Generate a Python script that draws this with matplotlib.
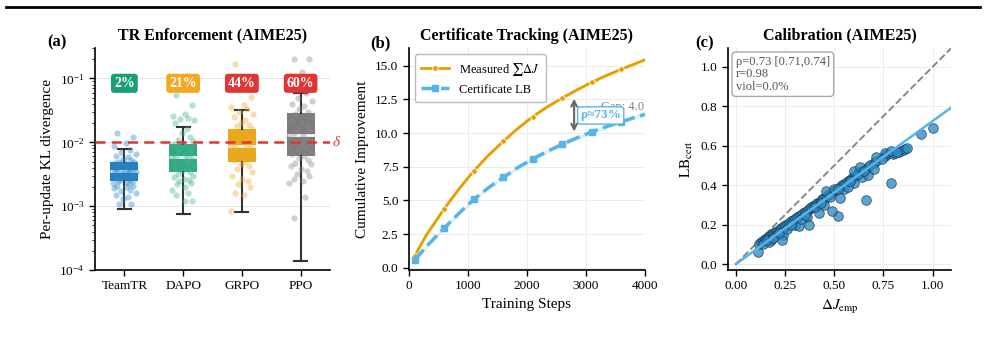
import numpy as np
import matplotlib
matplotlib.use("Agg")
import matplotlib.pyplot as plt
from matplotlib.lines import Line2D

plt.rcParams['font.family'] = ['Liberation Serif', 'DejaVu Serif']
plt.rcParams['mathtext.fontset'] = 'stix'

# ---------------- data: panel (a) ----------------
methods = ["TeamTR", "DAPO", "GRPO", "PPO"]
box_q1 = [0.00248, 0.00344, 0.00483, 0.0060]
box_med = [0.00352, 0.00586, 0.00886, 0.0132]
box_q3 = [0.00483, 0.0093, 0.0162, 0.029]
whisk_lo = [0.00091, 0.00075, 0.00082, 0.000139]
whisk_hi = [0.00776, 0.0171, 0.032, 0.060]
viol_labels = ["2%", "21%", "44%", "60%"]
delta = 0.01

pts_teamtr = [0.0140, 0.0120, 0.0098, 0.0088, 0.0075, 0.0070, 0.0066, 0.0062, 0.0058, 0.0055,
              0.0052, 0.0050, 0.0049, 0.0048, 0.0047, 0.0046, 0.0045, 0.0044, 0.0043, 0.0042,
              0.0041, 0.0040, 0.0039, 0.0038, 0.0037, 0.0036, 0.0036, 0.0035, 0.0034, 0.0034,
              0.0033, 0.0032, 0.0031, 0.0030, 0.0030, 0.0029, 0.0028, 0.0027, 0.0026, 0.0025,
              0.0025, 0.0024, 0.0023, 0.0022, 0.0021, 0.0021, 0.0020, 0.0019, 0.0018, 0.0017,
              0.0016, 0.0015, 0.0014, 0.0013, 0.0011, 0.0011]
pts_dapo = [0.055, 0.038, 0.028, 0.026, 0.024, 0.023, 0.022, 0.020, 0.016, 0.014, 0.012, 0.011,
            0.0105, 0.0095, 0.0090, 0.0085, 0.0080, 0.0075, 0.0070, 0.0066, 0.0062, 0.0060,
            0.0058, 0.0055, 0.0052, 0.0050, 0.0048, 0.0045, 0.0043, 0.0040, 0.0038, 0.0036,
            0.0034, 0.0032, 0.0030, 0.0029, 0.0027, 0.0026, 0.0025, 0.0023, 0.0022, 0.0020,
            0.0018, 0.0016, 0.0015, 0.0012, 0.0012]
pts_grpo = [0.17, 0.052, 0.038, 0.036, 0.033, 0.030, 0.028, 0.025, 0.022, 0.020, 0.019, 0.018,
            0.016, 0.015, 0.014, 0.013, 0.012, 0.011, 0.0105, 0.010, 0.0095, 0.0090, 0.0085,
            0.0080, 0.0075, 0.0070, 0.0065, 0.0060, 0.0056, 0.0052, 0.0050, 0.0046, 0.0042,
            0.0038, 0.0034, 0.0030, 0.0027, 0.0025, 0.0022, 0.0020, 0.0016, 0.0015, 0.00085]
pts_ppo = [0.20, 0.20, 0.125, 0.11, 0.060, 0.050, 0.045, 0.040, 0.037, 0.033, 0.030, 0.028,
           0.025, 0.022, 0.020, 0.018, 0.016, 0.015, 0.014, 0.013, 0.012, 0.011, 0.010, 0.0095,
           0.0090, 0.0085, 0.0080, 0.0075, 0.0070, 0.0065, 0.0060, 0.0056, 0.0052, 0.0048,
           0.0045, 0.0042, 0.0038, 0.0035, 0.0032, 0.0030, 0.0027, 0.0025, 0.0023, 0.0014, 0.00065]
jitter_pattern = [-0.12, 0.15, 0.03, -0.18, 0.09, -0.05, 0.19, -0.14, 0.06, -0.02,
                  0.12, -0.09, 0.17, -0.16, 0.01, 0.10, -0.07, 0.14, -0.11, 0.04, -0.19, 0.08]

# ---------------- data: panel (b) ----------------
steps = [100, 300, 600, 850, 1100, 1350, 1600, 1850, 2100, 2350, 2600, 2850, 3100, 3350, 3600, 3800, 4000]
measured = [0.88, 2.45, 4.38, 5.85, 7.19, 8.35, 9.39, 10.35, 11.22, 11.95, 12.60, 13.20, 13.77, 14.27, 14.73, 15.08, 15.43]
cert_lb = [0.58, 1.60, 2.95, 4.05, 5.08, 5.95, 6.71, 7.45, 8.09, 8.65, 9.17, 9.65, 10.09, 10.48, 10.84, 11.12, 11.39]
marker_idx = [0, 2, 4, 6, 8, 10, 12, 14]
arrow_step = 2800
arrow_top = 12.75
arrow_bot = 9.9

# ---------------- data: panel (c) ----------------
dj_emp = [0.12, 0.13, 0.14, 0.15, 0.15, 0.16, 0.17, 0.17, 0.18, 0.19, 0.19, 0.20, 0.21, 0.21,
          0.22, 0.23, 0.23, 0.24, 0.25, 0.25, 0.26, 0.27, 0.28, 0.29, 0.30, 0.31, 0.32, 0.33,
          0.34, 0.35, 0.36, 0.37, 0.38, 0.38, 0.39, 0.40, 0.41, 0.42, 0.43, 0.44, 0.45, 0.46,
          0.47, 0.48, 0.50, 0.51, 0.53, 0.54, 0.55, 0.56, 0.57, 0.58, 0.59, 0.60, 0.61, 0.62,
          0.63, 0.64, 0.66, 0.67, 0.68, 0.70, 0.71, 0.76, 0.77, 0.80, 0.81, 0.83, 0.85, 0.86, 0.87,
          0.18, 0.20, 0.24, 0.30, 0.36, 0.45, 0.55, 0.60, 0.64, 0.67, 0.70, 0.57, 0.62,
          0.46, 0.50, 0.60, 0.63, 0.71, 0.76, 0.79,
          0.79, 0.66, 0.52, 0.49, 0.42, 0.37, 0.32, 0.235, 0.17, 0.11, 0.53, 0.94, 1.00,
          0.14, 0.16, 0.19, 0.22, 0.26, 0.28, 0.33, 0.35, 0.40, 0.43, 0.48, 0.52, 0.58, 0.65, 0.74, 0.82]
lb_cert = [0.10, 0.11, 0.115, 0.12, 0.125, 0.13, 0.135, 0.14, 0.14, 0.15, 0.155, 0.155, 0.165, 0.17,
           0.17, 0.18, 0.185, 0.19, 0.19, 0.20, 0.20, 0.21, 0.22, 0.225, 0.23, 0.24, 0.245, 0.25,
           0.26, 0.265, 0.27, 0.28, 0.285, 0.29, 0.295, 0.30, 0.31, 0.31, 0.32, 0.33, 0.335, 0.34,
           0.35, 0.355, 0.37, 0.375, 0.39, 0.40, 0.405, 0.41, 0.42, 0.425, 0.435, 0.44, 0.45, 0.46,
           0.465, 0.47, 0.48, 0.49, 0.50, 0.51, 0.52, 0.55, 0.56, 0.56, 0.565, 0.57, 0.58, 0.585, 0.59,
           0.12, 0.14, 0.145, 0.20, 0.24, 0.30, 0.38, 0.41, 0.44, 0.45, 0.48, 0.39, 0.455,
           0.37, 0.38, 0.47, 0.49, 0.545, 0.565, 0.575,
           0.41, 0.325, 0.245, 0.27, 0.26, 0.20, 0.195, 0.12, 0.11, 0.06, 0.335, 0.66, 0.69,
           0.10, 0.12, 0.13, 0.16, 0.18, 0.20, 0.23, 0.25, 0.29, 0.31, 0.34, 0.38, 0.42, 0.47, 0.53, 0.57]
fit_slope = 0.725
calib_text = "ρ=0.73 [0.71,0.74]\nr=0.98\nviol=0.0%"

# ---------------- style ----------------
box_colors = ["#0a72b5", "#1a9e77", "#e69f00", "#6e6e6e"]
pt_colors = ["#2b86c8", "#3fb58f", "#eeaa30", "#8a8a8a"]
badge_colors = ["#1a9e77", "#f5a623", "#e03535", "#e03535"]
orange = "#e69f00"
skyblue = "#56b4e9"
red = "#e03535"

fig = plt.figure(figsize=(9.85, 3.41), dpi=100)
H = 341.0
W = 985.0
bot = 1 - 270 / H
hgt = (270 - 48) / H
axA = fig.add_axes([95 / W, bot, 235 / W, hgt])
axB = fig.add_axes([408.7 / W, bot, 236.3 / W, hgt])
axC = fig.add_axes([728 / W, bot, 223 / W, hgt])

for ax in (axA, axB, axC):
    for s in ("top", "right"):
        ax.spines[s].set_visible(False)
    for s in ("left", "bottom"):
        ax.spines[s].set_linewidth(1.2)
    ax.tick_params(labelsize=9.5, width=1.0, length=4)

# ---------------- panel (a) ----------------
stats = []
for i in range(4):
    stats.append(dict(q1=box_q1[i], med=box_med[i], q3=box_q3[i],
                      whislo=whisk_lo[i], whishi=whisk_hi[i], fliers=[], label=methods[i]))
bp = axA.bxp(stats, positions=range(4), widths=0.48, patch_artist=True, showfliers=False,
             capwidths=0.22,
             medianprops=dict(color="white", lw=2.0),
             whiskerprops=dict(color="#333333", lw=1.5),
             capprops=dict(color="#333333", lw=1.5),
             boxprops=dict(lw=0))
for patch, c in zip(bp["boxes"], box_colors):
    patch.set_facecolor(c)
    patch.set_alpha(0.9)
    patch.set_edgecolor("none")

groups = [pts_teamtr, pts_dapo, pts_grpo, pts_ppo]
for i, g in enumerate(groups):
    jit = np.resize(np.array(jitter_pattern), len(g))
    axA.scatter(i + jit, g, s=20, color=pt_colors[i], alpha=0.4, lw=0, zorder=3)

axA.axhline(delta, color=red, ls=(0, (4, 2.5)), lw=1.8, zorder=4)
axA.text(1.01, delta, "δ", transform=axA.get_yaxis_transform(), color=red, fontsize=11,
         style="italic", va="center", ha="left", clip_on=False)
for i, lab in enumerate(viol_labels):
    axA.text(i, 0.084, lab, ha="center", va="center", color="white", fontsize=10, weight="bold",
             zorder=6, bbox=dict(boxstyle="round,pad=0.22", fc=badge_colors[i], ec="none"))

axA.set_yscale("log")
axA.set_ylim(1e-4, 0.3)
axA.set_xlim(-0.5, 3.5)
axA.set_xticks(range(4))
axA.set_xticklabels(methods)
axA.yaxis.grid(True, which="major", color="#e6e6e6", lw=0.7)
axA.set_axisbelow(True)
axA.set_ylabel("Per-update KL divergence", fontsize=11)
axA.set_title("TR Enforcement (AIME25)", fontsize=11.5, weight="bold", pad=6)

# ---------------- panel (b) ----------------
st = np.array(steps)
me = np.array(measured)
lb = np.array(cert_lb)
axB.fill_between(st, me - 0.15, me + 0.15, color=orange, alpha=0.15, lw=0)
axB.fill_between(st, lb - 0.15, lb + 0.15, color=skyblue, alpha=0.2, lw=0)
axB.plot(st, me, color=orange, lw=2.0, marker="o", ms=4, mec="white", mew=0.6,
         markevery=marker_idx, label=r"Measured $\sum\Delta J$")
axB.plot(st, lb, color=skyblue, lw=2.5, ls=(0, (4, 1.6)), marker="s", ms=4, mec=skyblue,
         markevery=marker_idx, label="Certificate LB")
axB.annotate("", xy=(arrow_step, arrow_bot), xytext=(arrow_step, arrow_top),
             arrowprops=dict(arrowstyle="<->", color="#666666", lw=1.5))
axB.text(3990, 11.95, "Gap: 4.0", ha="right", va="center", fontsize=9, color="#808080")
axB.text(3250, 11.3, "ρ≈73%", ha="center", va="center", fontsize=9.5, color=skyblue,
         weight="bold", bbox=dict(boxstyle="round,pad=0.2", fc="white", ec=skyblue, lw=1.0))
axB.set_xlim(0, 4000)
axB.set_ylim(-0.15, 16.3)
axB.set_xticks([0, 1000, 2000, 3000, 4000])
axB.set_yticks([0, 2.5, 5, 7.5, 10, 12.5, 15])
axB.set_yticklabels(["0.0", "2.5", "5.0", "7.5", "10.0", "12.5", "15.0"])
axB.grid(True, color="#ececec", lw=0.7)
axB.set_axisbelow(True)
axB.set_xlabel("Training Steps", fontsize=11)
axB.set_ylabel("Cumulative Improvement", fontsize=11)
axB.set_title("Certificate Tracking (AIME25)", fontsize=11.5, weight="bold", pad=6)
leg = axB.legend(loc="upper left", fontsize=9, frameon=True, fancybox=True,
                 edgecolor="#bbbbbb", framealpha=1.0, borderpad=0.5, handlelength=2.2)
leg.get_frame().set_linewidth(1.0)

# ---------------- panel (c) ----------------
axC.plot([0, 1.1], [0, 1.1], color="#888888", ls="--", lw=1.4, zorder=1)
axC.scatter(dj_emp, lb_cert, s=48, color="#2f8bc4", alpha=0.78, edgecolor="#1a3550", lw=0.6, zorder=3)
axC.plot([0, 1.1], [0, 1.1 * fit_slope], color=skyblue, lw=1.8, zorder=4)
axC.set_xlim(-0.04, 1.093)
axC.set_ylim(-0.03, 1.095)
axC.set_xticks([0, 0.25, 0.5, 0.75, 1.0])
axC.set_xticklabels(["0.00", "0.25", "0.50", "0.75", "1.00"])
axC.set_yticks([0, 0.2, 0.4, 0.6, 0.8, 1.0])
axC.set_yticklabels(["0.0", "0.2", "0.4", "0.6", "0.8", "1.0"])
axC.grid(True, color="#ececec", lw=0.7)
axC.set_axisbelow(True)
axC.set_xlabel(r"$\Delta J_{\mathrm{emp}}$", fontsize=11)
axC.set_ylabel(r"$\mathrm{LB}_{\mathrm{cert}}$", fontsize=11)
axC.set_title("Calibration (AIME25)", fontsize=11.5, weight="bold", pad=6)
axC.text(0.035, 0.965, calib_text, transform=axC.transAxes, ha="left", va="top", fontsize=9,
         color="#555555", linespacing=1.05,
         bbox=dict(boxstyle="round,pad=0.3", fc="white", ec="#aaaaaa", lw=1.0))

# panel letters
fig.text(47 / W, 1 - 42 / H, "(a)", fontsize=12, weight="bold", va="center", ha="left")
fig.text(370 / W, 1 - 43 / H, "(b)", fontsize=12, weight="bold", va="center", ha="left")
fig.text(695 / W, 1 - 43 / H, "(c)", fontsize=12, weight="bold", va="center", ha="left")

# top rule
fig.add_artist(Line2D([6 / W, 980 / W], [1 - 7 / H, 1 - 7 / H], color="black", lw=2.0))

fig.savefig("out.png", dpi=100)
